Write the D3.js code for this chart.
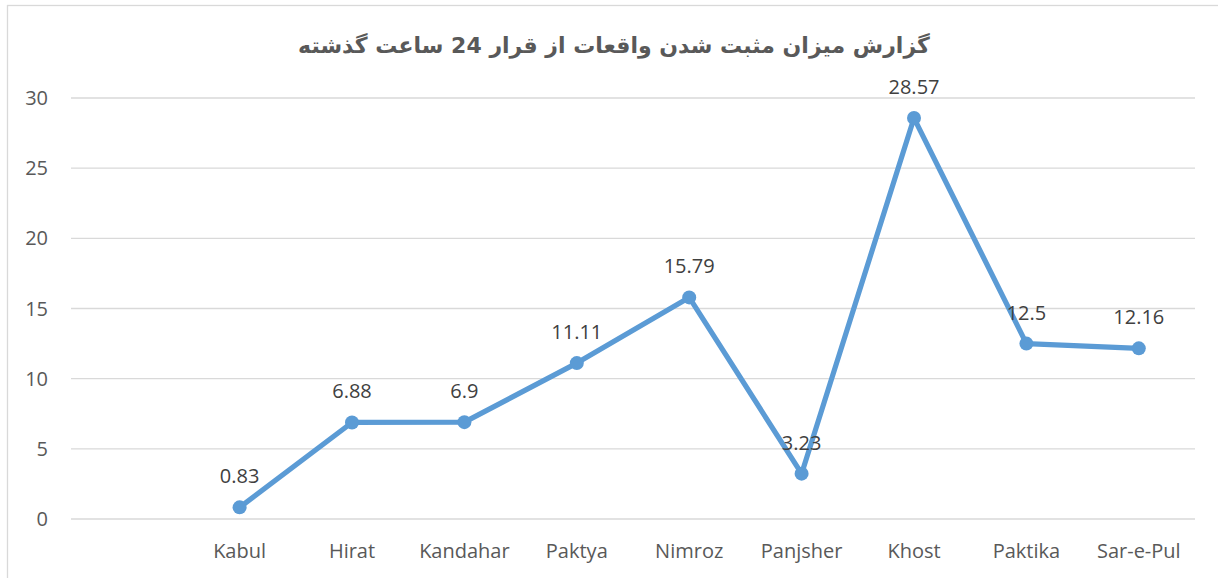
<!DOCTYPE html>
<html lang="fa">
<head>
<meta charset="UTF-8">
<title>گزارش میزان مثبت شدن واقعات</title>
<script src="https://cdnjs.cloudflare.com/ajax/libs/d3/7.8.5/d3.min.js"></script>
<style>
    body { margin: 0; background: #fff; }
    svg { display: block; font-family: 'Open Sans', 'Noto Sans', sans-serif; }
    .grid line { stroke: #d9d9d9; stroke-width: 1.3px; }
    .tick-label { fill: #595959; font-size: 20px; }
    .value-label { fill: #404040; font-size: 20px; text-anchor: middle; }
    .title { fill: #595959; font-size: 22px; font-weight: bold; text-anchor: middle; font-family: 'DejaVu Sans', 'Noto Sans', sans-serif; }
</style>
</head>
<body>
<svg id="chart" width="1218" height="578"></svg>
<script>
"use strict";

// data
const provinces = ["", "Kabul", "Hirat", "Kandahar", "Paktya", "Nimroz", "Panjsher", "Khost", "Paktika", "Sar-e-Pul"];
const positiveRate = [null, 0.83, 6.88, 6.9, 11.11, 15.79, 3.23, 28.57, 12.5, 12.16];
const yTicks = [0, 5, 10, 15, 20, 25, 30];
const chartTitle = "گزارش میزان مثبت شدن واقعات از قرار 24 ساعت گذشته";

const width = 1218, height = 578;
const plot = { left: 71, right: 1195, top: 98, bottom: 519 };

const svg = d3.select("#chart");

// outer frame
svg.append("rect")
    .attr("x", 7.5).attr("y", 5.5)
    .attr("width", width + 20).attr("height", height + 20)
    .attr("fill", "none").attr("stroke", "#d9d9d9").attr("stroke-width", 1.3);

const x = d3.scaleBand().domain(provinces).range([plot.left, plot.right]);
const y = d3.scaleLinear().domain([0, 30]).range([plot.bottom, plot.top]);

// gridlines
svg.append("g").attr("class", "grid")
    .selectAll("line").data(yTicks).join("line")
    .attr("x1", plot.left).attr("x2", plot.right)
    .attr("y1", d => y(d)).attr("y2", d => y(d));

// y tick labels
svg.append("g").selectAll("text").data(yTicks).join("text")
    .attr("class", "tick-label")
    .attr("x", 48).attr("y", d => y(d))
    .attr("dy", "0.35em").attr("text-anchor", "end")
    .text(d => d);

// x labels
svg.append("g").selectAll("text").data(provinces).join("text")
    .attr("class", "tick-label")
    .attr("x", d => x(d) + x.bandwidth() / 2).attr("y", 551)
    .attr("dy", "0.35em").attr("text-anchor", "middle")
    .text(d => d);

const points = provinces.map((p, i) => ({ p, v: positiveRate[i] })).filter(d => d.v !== null);
const cx = d => x(d.p) + x.bandwidth() / 2;

svg.append("path").datum(points)
    .attr("fill", "none").attr("stroke", "#5b9bd5")
    .attr("stroke-width", 5.2).attr("stroke-linejoin", "round")
    .attr("d", d3.line().x(cx).y(d => y(d.v)));

svg.append("g").selectAll("circle").data(points).join("circle")
    .attr("cx", cx).attr("cy", d => y(d.v)).attr("r", 7)
    .attr("fill", "#5b9bd5");

svg.append("g").selectAll("text").data(points).join("text")
    .attr("class", "value-label")
    .attr("x", cx).attr("y", d => y(d.v) - 31)
    .attr("dy", "0.35em")
    .text(d => d.v);

svg.append("text").attr("class", "title")
    .attr("x", 614).attr("y", 45).attr("dy", "0.35em")
    .attr("direction", "rtl")
    .text(chartTitle);
</script>
</body>
</html>
